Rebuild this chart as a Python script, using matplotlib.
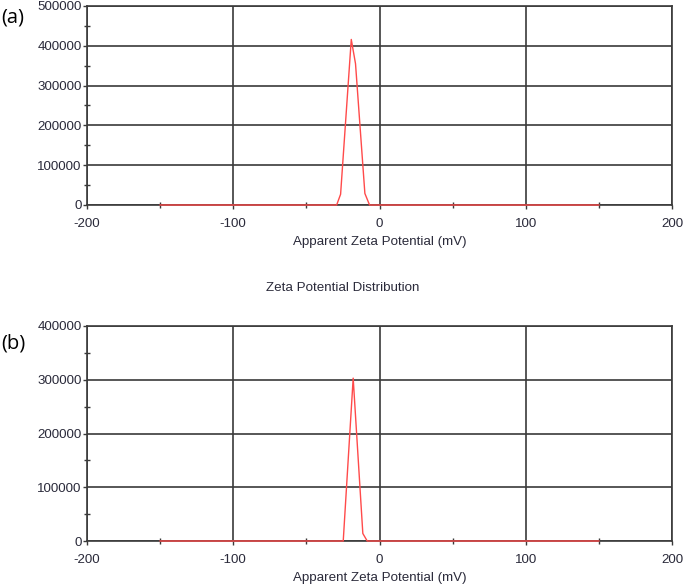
import matplotlib
matplotlib.use("Agg")
import matplotlib.pyplot as plt
from matplotlib.ticker import MultipleLocator

plt.rcParams['font.family'] = ['Liberation Sans', 'DejaVu Sans']
plt.rcParams['axes.unicode_minus'] = False

# Data
x_a = [-150, -29.3, -26.6, -19.3, -16.4, -10.0, -6.8, 150]
y_a = [0, 0, 27000, 416000, 355000, 29000, 0, 0]
x_b = [-150, -24.8, -18.0, -11.4, -8.4, 150]
y_b = [0, 0, 303000, 14000, 0, 0]
xlim = (-200, 200)
ylim_a = (0, 500000)
ylim_b = (0, 400000)
xlabel = "Apparent Zeta Potential (mV)"
title_b = "Zeta Potential Distribution"

W, H = 685, 587
fig = plt.figure(figsize=(W / 100, H / 100), dpi=100)

grid_c = '#3a3a3a'
text_c = '#2a2a3a'
red = '#ff4a4a'
fs = 9.6

def make_ax(top_px, bottom_px, left_px=87, right_px=672):
    return fig.add_axes([left_px / W, 1 - bottom_px / H,
                         (right_px - left_px) / W, (bottom_px - top_px) / H])

def style(ax, ylim, x, y):
    ax.set_xlim(*xlim)
    ax.set_ylim(*ylim)
    ax.xaxis.set_major_locator(MultipleLocator(100))
    ax.xaxis.set_minor_locator(MultipleLocator(50))
    ax.yaxis.set_major_locator(MultipleLocator(100000))
    ax.yaxis.set_minor_locator(MultipleLocator(50000))
    ax.grid(True, which='major', color=grid_c, lw=1.2)
    for s in ax.spines.values():
        s.set_color(grid_c)
        s.set_linewidth(1.2)
    ax.tick_params(which='major', length=3, width=1.0, color=grid_c,
                   labelsize=fs, labelcolor=text_c, direction='out', pad=1.0)
    ax.tick_params(axis='x', which='major', pad=6.5)
    ax.tick_params(which='minor', length=5, width=1.0, color=grid_c, direction='inout')
    ax.plot(x, y, color=red, lw=1.0, zorder=5, clip_on=False)
    ax.set_xlabel(xlabel, fontsize=fs, color=text_c, labelpad=4.5)
    ax.set_axisbelow(True)

ax1 = make_ax(6, 205)
style(ax1, ylim_a, x_a, y_a)
ax2 = make_ax(326, 541)
style(ax2, ylim_b, x_b, y_b)

fig.text(343 / W, 1 - 288 / H, title_b, fontsize=fs, color=text_c,
         ha='center', va='center')
fig.text(1 / W, 1 - 17 / H, "(a)", fontsize=14.5, color='black',
         ha='left', va='center', family=['Open Sans', 'DejaVu Sans'])
fig.text(1 / W, 1 - 344 / H, "(b)", fontsize=14.5, color='black',
         ha='left', va='center', family=['Open Sans', 'DejaVu Sans'])

fig.savefig("out.png", dpi=100)
